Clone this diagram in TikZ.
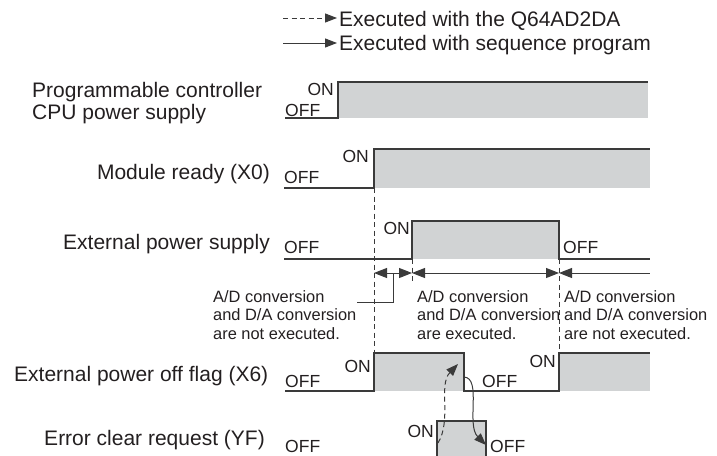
\documentclass[tikz,border=0pt]{standalone}
\usepackage{fontspec}
\setmainfont{Liberation Sans}
\usetikzlibrary{arrows.meta}
\definecolor{ln}{HTML}{3A3A3A}
\definecolor{fillg}{HTML}{D1D3D4}
\definecolor{txt}{HTML}{231F20}
\begin{document}
\begin{tikzpicture}[x=1pt,y=-1pt,
  wave/.style={draw=ln,line width=1.3pt},
  grayarea/.style={fill=fillg},
  big/.style={font=\fontsize{21}{23}\selectfont, text=txt, inner sep=0pt},
  lvl/.style={font=\fontsize{17.5}{19}\selectfont, text=txt, inner sep=0pt},
  small/.style={font=\fontsize{16.4}{18.3}\selectfont, text=txt, inner sep=0pt, align=left, anchor=north west},
  guide/.style={draw=ln,line width=1pt,dash pattern=on 5pt off 3.5pt},
  thinl/.style={draw=ln,line width=1pt},
  tip/.style={-{Triangle[length=12pt,width=9pt]}},
  dimboth/.style={{Triangle[length=13pt,width=10pt]}-{Triangle[length=13pt,width=10pt]}},
  dimleft/.style={{Triangle[length=13pt,width=10pt]}-},
]
\useasboundingbox (0,0) rectangle (717,455);

% legend
\coordinate (l1a) at (283,18); \coordinate (l1b) at (337,18);
\coordinate (l2a) at (283,43); \coordinate (l2b) at (337,43);
\draw[guide,tip] (l1a) -- (l1b);
\draw[thinl,tip] (l2a) -- (l2b);
\node[big,anchor=base west] (leg1) at (339,26) {Executed with the Q64AD2DA};
\node[big,anchor=base west] (leg2) at (339,50) {Executed with sequence program};

% row 1
\fill[grayarea] (338,82) rectangle (648,118);
\draw[wave] (285,118) -- (338,118) -- (338,82) -- (648,82);
\node[big,anchor=base west] (r1a) at (32,97) {Programmable controller};
\node[big,anchor=base west] (r1b) at (32,119) {CPU power supply};
\node[lvl,anchor=base east] (r1on) at (334,95.5) {ON};
\node[lvl,anchor=base west] (r1off) at (285,116) {OFF};

% row 2
\fill[grayarea] (374,149) rectangle (650,188);
\draw[wave] (284,188) -- (374,188) -- (374,149) -- (650,149);
\node[big,anchor=base east] (r2) at (270,179) {Module ready (X0)};
\node[lvl,anchor=base east] (r2on) at (369,162.5) {ON};
\node[lvl,anchor=base west] (r2off) at (284,183) {OFF};

% row 3
\fill[grayarea] (412,221) rectangle (559,259);
\draw[wave] (284,259) -- (412,259) -- (412,221) -- (559,221) -- (559,259) -- (650,259);
\node[big,anchor=base east] (r3) at (270,249) {External power supply};
\node[lvl,anchor=base east] (r3on) at (410,234.5) {ON};
\node[lvl,anchor=base west] (r3off) at (284,253.5) {OFF};
\node[lvl,anchor=base west] (r3off2) at (563,253.5) {OFF};

% guides and dimension arrows
\coordinate (g1t) at (374,188); \coordinate (g1b) at (374,353);
\coordinate (g2t) at (559,259); \coordinate (g2b) at (559,353);
\coordinate (g3t) at (412,259); \coordinate (g3b) at (412,283);
\draw[guide] (g1t) -- (g1b);
\draw[guide] (g2t) -- (g2b);
\draw[guide] (g3t) -- (g3b);
\coordinate (d1) at (374,273); \coordinate (d2) at (412,273);
\coordinate (d3) at (559,273); \coordinate (d4) at (650,273);
\draw[thinl,dimboth] (d1) -- (d2);
\draw[thinl,dimboth] (d2) -- (d3);
\draw[thinl,dimleft] (d3) -- (d4);
\coordinate (ld1) at (393,273); \coordinate (ld2) at (393,302); \coordinate (ld3) at (357,302);
\draw[thinl] (ld1) -- (ld2) -- (ld3);

\node[small] (t1) at (213,290.5) {A/D conversion\\and D/A conversion\\are not executed.};
\node[small] (t2) at (417,290.5) {A/D conversion\\and D/A conversion\\are executed.};
\node[small] (t3) at (564,290.5) {A/D conversion\\and D/A conversion\\are not executed.};

% row 4
\fill[grayarea] (374,353) rectangle (464,391);
\fill[grayarea] (559,353) rectangle (650,391);
\draw[wave] (285,391) -- (374,391) -- (374,353) -- (464,353) -- (464,391) -- (559,391) -- (559,353) -- (650,353);
\node[big,anchor=base west] (r4) at (14,381) {External power off flag (X6)};
\node[lvl,anchor=base east] (r4on) at (371,372) {ON};
\node[lvl,anchor=base east] (r4on2) at (556,367) {ON};
\node[lvl,anchor=base west] (r4off) at (285,387) {OFF};
\node[lvl,anchor=base west] (r4off2) at (482,387) {OFF};

% row 5
\fill[grayarea] (437,421) rectangle (486,460);
\draw[wave] (285,460) -- (437,460) -- (437,421) -- (486,421) -- (486,460) -- (650,460);
\node[big,anchor=base east] (r5) at (265,445) {Error clear request (YF)};
\node[lvl,anchor=base east] (r5on) at (434,437) {ON};
\node[lvl,anchor=base west] (r5off) at (285,452.5) {OFF};
\node[lvl,anchor=base west] (r5off2) at (490,452.5) {OFF};

% curved arrows
\coordinate (c1s) at (438,443); \coordinate (c1e) at (458,364);
\draw[guide,tip] (c1s) .. controls (452,420) and (438,385) .. (c1e);
\coordinate (c2s) at (464,377); \coordinate (c2e) at (486,445);
\draw[thinl,tip] (c2s) .. controls (482,378) and (466,425) .. (c2e);
\end{tikzpicture}
\end{document}
